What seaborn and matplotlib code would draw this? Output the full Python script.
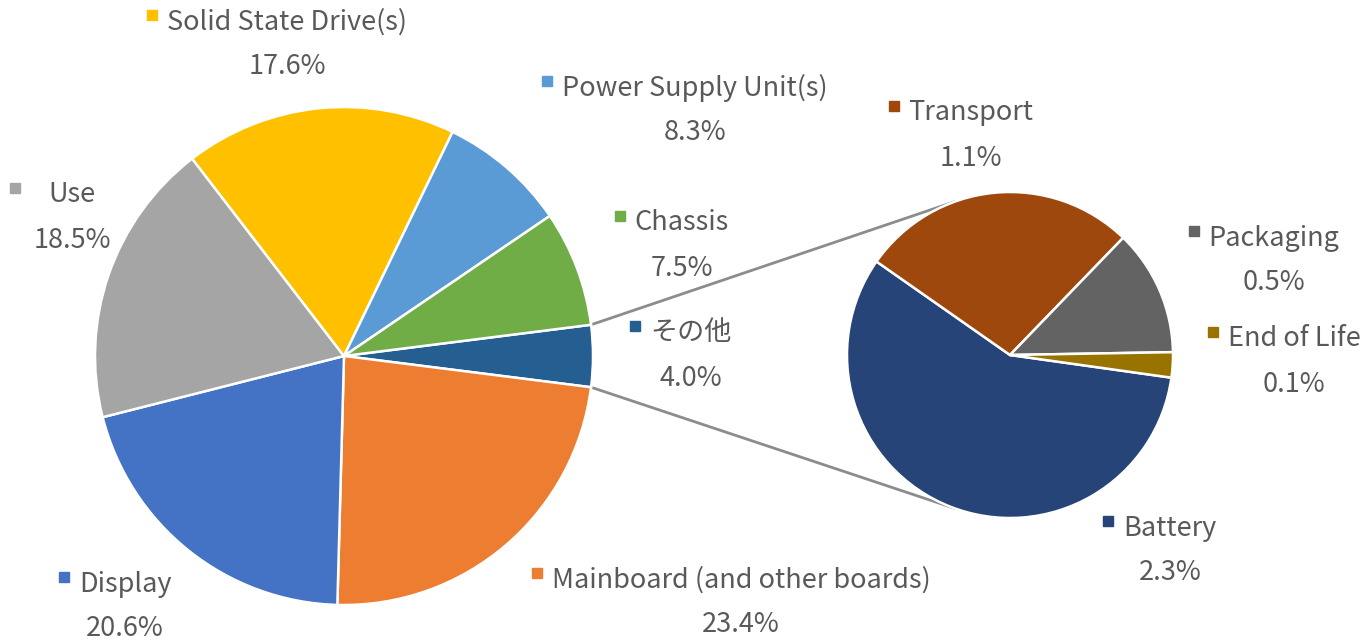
import numpy as np
import seaborn as sns
import matplotlib
matplotlib.use("Agg")
import matplotlib.pyplot as plt

# main pie (share of total, %)
main_labels = ["その他", "Mainboard (and other boards)", "Display", "Use",
               "Solid State Drive(s)", "Power Supply Unit(s)", "Chassis"]
main_values = [None, 23.4, 20.6, 18.5, 17.6, 8.3, 7.5]
main_colors = ["#255E91", "#ED7D31", "#4472C4", "#A5A5A5", "#FFC000", "#5B9BD5", "#70AD47"]

# secondary pie (breakdown of その他)
sub_labels = ["Battery", "Transport", "Packaging", "End of Life"]
sub_values = [2.3, 1.1, 0.5, 0.1]
sub_colors = ["#264478", "#9E480E", "#636363", "#997300"]

main_values[0] = sum(sub_values)

sns.set_style("white")
plt.rcParams["font.family"] = ["Noto Sans CJK JP", "DejaVu Sans"]

W, H = 1365, 642
fig = plt.figure(figsize=(W / 100, H / 100), dpi=100)
ax = fig.add_axes([0, 0, 1, 1])

main_c, main_r = (344, H - 356), 249
sub_c, sub_r = (1010, H - 355), 163

start = 180 * main_values[0] / sum(main_values)
wp = dict(edgecolor="white", linewidth=1.8)
ax.pie(main_values, colors=main_colors, startangle=start, counterclock=False,
       radius=main_r, center=main_c, wedgeprops=wp)
ax.pie(sub_values, colors=sub_colors, startangle=-8, counterclock=False,
       radius=sub_r, center=sub_c, wedgeprops=wp)

# connector lines
for s, t in [(1, 1), (-1, -1)]:
    a1 = np.deg2rad(s * start)
    a2 = np.deg2rad(t * 110)
    ax.plot([main_c[0] + main_r * np.cos(a1), sub_c[0] + sub_r * np.cos(a2)],
            [main_c[1] + main_r * np.sin(a1), sub_c[1] + sub_r * np.sin(a2)],
            color="#8c8c8c", lw=2, zorder=0, solid_capstyle="round")

# label layout: name center x, name y (image px)
label_pos = {
    "Solid State Drive(s)": (287, 22),
    "Power Supply Unit(s)": (695, 88),
    "Use": (72, 195),
    "Chassis": (682, 223),
    "その他": (691, 333),
    "Display": (125, 584),
    "Mainboard (and other boards)": (741, 580),
    "Transport": (971, 113),
    "Packaging": (1274, 238),
    "End of Life": (1294, 339),
    "Battery": (1170, 528),
}

txt_color = "#595959"
fs = 19.5
items = list(zip(main_labels, main_values, main_colors)) + list(zip(sub_labels, sub_values, sub_colors))
names = []
for lab, val, col in items:
    x, y = label_pos[lab]
    t = ax.text(x, H - y, lab, ha="center", va="center", fontsize=fs, color=txt_color)
    ax.text(x, H - y - 45, f"{val:.1f}%", ha="center", va="center", fontsize=fs, color=txt_color)
    names.append((t, col, lab))

ax.set_xlim(0, W)
ax.set_ylim(0, H)
ax.set_aspect("equal")
ax.axis("off")

fig.canvas.draw()
r = fig.canvas.get_renderer()
for t, col, lab in names:
    bb = t.get_window_extent(r)
    gap = 33 if lab == "Use" else 15
    ax.plot(bb.x0 - gap, H - label_pos[lab][1] + 7, marker="s", ms=7,
            color=col, mec=col, ls="none")

fig.savefig("out.png", dpi=100)
